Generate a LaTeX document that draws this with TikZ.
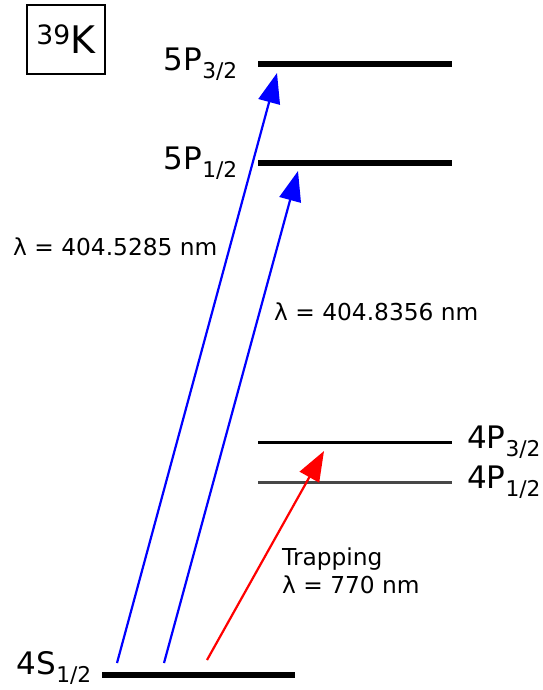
\documentclass[tikz,border=0pt]{standalone}
\usepackage{fontspec}
\setmainfont{DejaVu Sans}
\usetikzlibrary{positioning,arrows.meta}

\begin{document}
\begin{tikzpicture}[x=1pt,y=-1pt,
    lvl/.style={line width=5.5pt},
    lvlthin/.style={line width=3pt},
    excite/.style={line width=2.2pt,-{Triangle[length=30pt,width=22pt]}},
    statelbl/.style={inner sep=0pt,font=\fontsize{31}{36}\selectfont},
    wavelbl/.style={inner sep=0pt,font=\fontsize{23.3}{28}\selectfont}]
    \useasboundingbox (0,0) rectangle (542,690);

    % isotope box
    \node[draw,line width=1.3pt,minimum width=78pt,minimum height=69pt,inner sep=0pt,
          font=\fontsize{38}{40}\selectfont] (iso) at (66,39.5) {\textsuperscript{39}K};

    % levels
    \coordinate (p32l) at (258,64);  \coordinate (p32r) at (452,64);
    \coordinate (p12l) at (258,163); \coordinate (p12r) at (452,163);
    \coordinate (q32l) at (258,442); \coordinate (q32r) at (452,442);
    \coordinate (q12l) at (258,482); \coordinate (q12r) at (452,482);
    \coordinate (sl) at (102,675);   \coordinate (sr) at (295,675);

    \draw[lvl] (p32l) -- (p32r);
    \draw[lvl] (p12l) -- (p12r);
    \draw[lvlthin] (q32l) -- (q32r);
    \draw[lvlthin, black!72] (q12l) -- (q12r);
    \draw[lvl] (sl) -- (sr);

    \node[statelbl, left=20pt of p32l] (n5p32) {5P\textsubscript{3/2}};
    \node[statelbl, left=20pt of p12l] (n5p12) {5P\textsubscript{1/2}};
    \node[statelbl, right=15pt of q32r] (n4p32) {4P\textsubscript{3/2}};
    \node[statelbl, right=15pt of q12r] (n4p12) {4P\textsubscript{1/2}};
    \node[statelbl, left=10pt of sl, yshift=7pt] (n4s12) {4S\textsubscript{1/2}};

    % transitions
    \coordinate (a1s) at (117,663); \coordinate (a1e) at (277,73);
    \coordinate (a2s) at (164,663); \coordinate (a2e) at (298,171);
    \coordinate (a3s) at (207,660); \coordinate (a3e) at (324,451);

    \draw[excite, blue] (a1s) -- (a1e);
    \draw[excite, blue] (a2s) -- (a2e);
    \draw[excite, red] (a3s) -- (a3e);

    \node[wavelbl, anchor=base west] (w1) at (13,255) {λ = 404.5285 nm};
    \node[wavelbl, anchor=base west] (w2) at (274,320) {λ = 404.8356 nm};
    \node[wavelbl, anchor=base west] (w3) at (282,565) {Trapping};
    \node[wavelbl, anchor=base west] (w4) at (282,593) {λ = 770 nm};
\end{tikzpicture}
\end{document}
